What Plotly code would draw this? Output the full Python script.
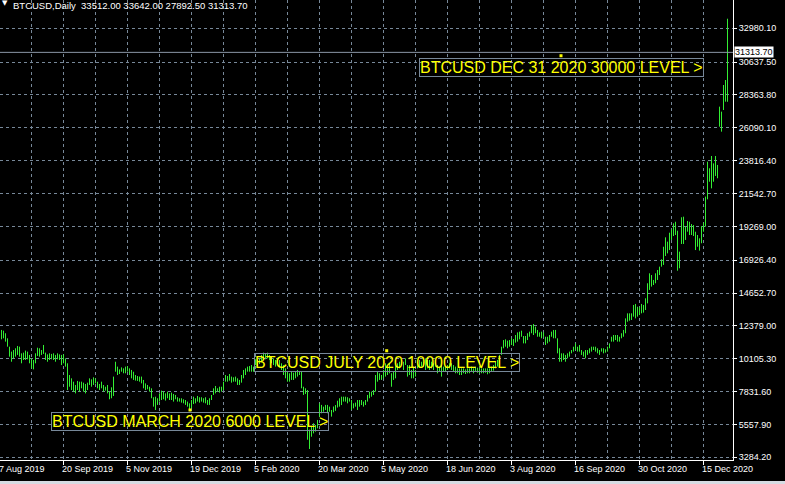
import plotly.graph_objects as go

symbol = "BTCUSD"
period = "Daily"

# Daily bars (weekdays), high / low
bar_high = [
    12100, 12050, 11870, 11520, 10940, 10600, 10710, 10830, 10990, 10940, 10480, 10530, 10670, 10600, 10370, 10130,
    10020, 10480, 10870, 10830, 10710, 11060, 10530, 10410, 10480, 10440, 10480, 10370, 10480, 10410, 10370, 10410, 10130,
    9790, 8980, 8750, 8520, 8290, 8570, 8520, 8520, 8450, 8360, 8450, 8750, 8680, 8820, 8750, 8520, 8360, 8520, 8290,
    8170, 8290, 7830, 8130, 8870,
    9900, 9560, 9370, 9510, 9440, 9560, 9600, 9440, 9330, 9210, 8980, 8910, 8870, 8870, 8640, 8400, 8290, 8170, 8060,
    7440, 7480, 7370, 7710, 7900, 7830, 7710, 7830, 7710, 7760, 7670, 7600, 7440, 7370, 7370, 7300, 7250, 7140, 7020,
    7250, 7480, 7370, 7530, 7440, 7440, 7370, 7440, 7250, 7370, 7600, 8060, 8220, 8060, 8170, 8170, 8520,
    8980, 8910, 9050, 8870, 8820, 8870, 8750, 8640, 8980, 9330, 9440, 9560, 9600, 9670, 9560, 10070, 10020, 10130,
    10370, 10530, 10480, 10530, 10370, 10250, 10130, 10020, 10130, 10020, 9790, 9670, 9440, 9210, 9100, 9210, 9140,
    9210, 9330, 9260, 9210, 8170, 8060,
    7940, 5200, 5400, 5640, 5520, 5870, 7020, 6910, 6790, 6910, 6910, 6790, 6560, 6800, 6900, 7200,
    7370, 7480, 7480, 7480, 7440, 7370, 7250, 7020, 7070, 7250, 7250, 7250, 7140, 7250, 7600, 7830, 7830, 7940,
    8980, 9210, 9100, 8980, 9330, 9790, 9560, 9790, 9100, 9210, 9670, 9790, 9900, 10020, 9900, 10130, 9670, 9670,
    9330, 9560, 9330, 9900, 10020, 9900, 9900, 10130, 10020, 10020, 9900, 9790, 9900, 9670, 9560, 9670, 9560, 9560,
    9670, 9790, 9790, 9670, 9560, 9440, 9440, 9440, 9440, 9370, 9440, 9440, 9560, 9440, 9560, 9490, 9440, 9440, 9440,
    9440, 9440, 9440, 9560, 9670, 9900, 10020, 10370,
    10940, 11400, 11450, 11360, 11400, 11520, 11470, 11750, 11930, 11980, 12050, 11680, 11680, 11870, 11980, 12440,
    12510, 12330, 12100, 11930, 11980, 11930, 11630, 11630, 11750, 11980, 12100, 12100, 11520, 10830, 10480, 10480,
    10370, 10480, 10600, 10710, 10940, 11170, 10940, 11060, 10710, 10600, 10710, 10710, 10830, 10940, 10940, 10940,
    10830, 10710, 10830, 10830, 10760, 10940, 11170, 11630, 11750, 11750, 11750, 11630, 11870, 12100,
    12900, 13250, 13250, 13250, 13830, 13900, 13710, 13670, 13900, 13830, 14290, 15330, 16020, 15900, 15560, 16020,
    16250, 16480, 16990, 17860, 18510, 18210, 18830, 19060, 19480, 19590, 18970, 17520, 19900, 19940, 19250, 19640,
    19590, 19430, 19360, 18900, 18670, 18440, 19290, 19530, 21330, 23750, 23290, 24140, 23630, 24140, 23520,
    27555, 27210, 29055, 29400, 33642.00,
]
bar_low = [
    11450, 11520, 11290, 10940, 10250, 9900, 10130, 10250, 10370, 10250, 9790, 10020, 10020, 10070, 9790, 9440,
    9370, 9790, 10300, 10250, 10370, 10440, 10020, 9900, 10020, 10070, 10020, 9900, 10070, 10020, 9670, 9790, 9560,
    7940, 8170, 7940, 7830, 7710, 7940, 7830, 8060, 7830, 7710, 7940, 8290, 8170, 8290, 8400, 8060, 7940, 8060, 7830,
    7900, 7710, 7300, 7370, 7530,
    9210, 8980, 9050, 9210, 9100, 9100, 9210, 8980, 8750, 8640, 8590, 8570, 8520, 8400, 8060, 7940, 7990, 7830, 7370,
    6790, 6560, 6910, 7140, 7250, 7300, 7210, 7370, 7250, 7250, 7140, 7300, 7140, 7140, 7070, 7020, 6910, 6790, 6560,
    6670, 6970, 7020, 7140, 7070, 7140, 7070, 7020, 6910, 6910, 7250, 7600, 7710, 7830, 7760, 7830, 7940,
    8520, 8520, 8590, 8450, 8520, 8520, 8290, 8290, 8450, 8750, 8980, 9210, 9210, 9210, 9210, 9670, 9600, 9740,
    9900, 10020, 10070, 10130, 10020, 9790, 9670, 9560, 9670, 9510, 9330, 8980, 8750, 8520, 8520, 8640, 8640,
    8750, 8870, 8980, 8060, 7600, 7670,
    4500, 3860, 4710, 4940, 5060, 5290, 6100, 6330, 6440, 6560, 6330, 6440, 6100, 6400, 6500, 6730,
    6790, 6900, 7140, 7140, 7020, 7140, 6560, 6670, 6790, 6560, 6790, 6900, 6790, 6900, 7140, 7370, 7480, 7600,
    7830, 8520, 8640, 8640, 8750, 8870, 8980, 9100, 8170, 8640, 8750, 9330, 9440, 9670, 9330, 9670, 8870, 8980,
    8750, 8750, 8870, 9440, 9560, 9560, 9560, 9330, 9440, 9330, 9440, 9330, 9560, 9100, 9210, 8870, 9210, 9210,
    9330, 9440, 9330, 9210, 9100, 9100, 8980, 8980, 9100, 9050, 9100, 9100, 9210, 9100, 9210, 9140, 9100, 9100, 9100,
    9140, 9030, 9100, 9210, 9280, 9440, 9560, 9790,
    10370, 10830, 10940, 10830, 10940, 11060, 10990, 11220, 11290, 11450, 11630, 11170, 11170, 11400, 11630, 11870,
    11750, 11870, 11630, 11630, 11520, 11630, 11060, 11170, 11290, 11630, 11520, 11520, 10480, 9900, 9900, 10020,
    9900, 10130, 10250, 10480, 10600, 10710, 10600, 10600, 10370, 10250, 10130, 10370, 10480, 10600, 10710, 10600,
    10480, 10370, 10600, 10480, 10530, 10600, 10830, 11290, 11290, 11400, 11290, 11290, 11520, 11630,
    11870, 12670, 12740, 12790, 13020, 12900, 13020, 13130, 13250, 13300, 13480, 13940, 14870, 15100, 15210, 15330,
    15560, 15900, 16480, 16600, 17220, 17400, 17630, 18330, 18600, 18670, 16200, 16370, 18050, 18050, 18330, 18900,
    18670, 18670, 18600, 17630, 17860, 17590, 18100, 18900, 19250, 21140, 22360, 21900, 22360, 22760, 22600,
    26170, 25825, 27325, 27900, 27892.50,
]
assert len(bar_high) == len(bar_low) == 364, (len(bar_high), len(bar_low))

last_open = 33512.00
last_close = 31313.70

date_labels = ["7 Aug 2019", "20 Sep 2019", "5 Nov 2019", "19 Dec 2019", "5 Feb 2020", "20 Mar 2020",
               "5 May 2020", "18 Jun 2020", "3 Aug 2020", "16 Sep 2020", "30 Oct 2020", "15 Dec 2020"]
date_label_bar = [-1, 31, 63, 95, 127, 159, 191, 223, 255, 287, 319, 351]

price_ticks = [3284.20, 5557.90, 7831.60, 10105.30, 12379.00, 14652.70, 16926.40,
               19269.00, 21542.70, 23816.40, 26090.10, 28363.80, 30637.50, 32980.10]

level_labels = ["BTCUSD MARCH 2020 6000 LEVEL >", "BTCUSD JULY 2020 10000 LEVEL >",
                "BTCUSD DEC 31 2020 30000 LEVEL >"]
level_bar = [94.25, 192.6, 279.75]
level_price = [6560, 10660, 31080]

# ---------------------------------------------------------------
BAR_COLOR = "#33ee33"
GRID = "#778899"
FONT = "Liberation Sans, Arial, sans-serif"
x_range = [-0.75, 365.75]
y_range = [3097.3, 34938.5]

seg_x, seg_y = [], []
for i, (h, l) in enumerate(zip(bar_high, bar_low)):
    seg_x += [i, i, None]
    seg_y += [l, h, None]

fig = go.Figure()
fig.add_trace(go.Scatter(x=seg_x, y=seg_y, mode="lines",
                         line=dict(color=BAR_COLOR, width=1), hoverinfo="skip", showlegend=False))
fig.add_trace(go.Scatter(x=level_bar, y=level_price, mode="markers",
                         marker=dict(symbol="square", size=3, color="#ffff00", line=dict(width=0)),
                         hoverinfo="skip", showlegend=False))

minor_vals = [b + 16 for b in date_label_bar]

fig.update_layout(
    width=785, height=484,
    margin=dict(l=0, r=52, t=0, b=24, pad=0),
    paper_bgcolor="black", plot_bgcolor="black",
    hovermode=False, showlegend=False,
    font=dict(family=FONT, color="white", size=9),
    xaxis=dict(range=x_range, tickmode="array", tickvals=date_label_bar, showticklabels=False,
               ticks="outside", ticklen=4, tickcolor="white", tickwidth=1,
               showline=True, linecolor="white", linewidth=1,
               showgrid=True, gridcolor=GRID, gridwidth=1, griddash="3px,3px", zeroline=False,
               minor=dict(tickmode="array", tickvals=minor_vals, showgrid=True, gridcolor=GRID,
                          gridwidth=1, griddash="3px,3px", ticks="")),
    yaxis=dict(range=y_range, side="right", tickmode="array", tickvals=price_ticks,
               ticktext=[f"{v:.2f}" for v in price_ticks],
               ticks="outside", ticklen=3, tickcolor="white", tickwidth=1,
               tickfont=dict(family=FONT, size=9, color="white"),
               showline=True, linecolor="white", linewidth=1,
               showgrid=True, gridcolor=GRID, gridwidth=1, griddash="3px,3px", zeroline=False),
)

ann = []
for k, (lbl, b) in enumerate(zip(date_labels, date_label_bar)):
    ann.append(dict(xref="paper", yref="paper",
                    x=max(0.0, (b - x_range[0]) / (x_range[1] - x_range[0])), y=0,
                    xanchor="left", yanchor="top", xshift=(-3 if k == 0 else -4), yshift=-2,
                    text=lbl, showarrow=False, font=dict(family=FONT, size=9, color="white")))

for txt, b, p in zip(level_labels, level_bar, level_price):
    ann.append(dict(xref="x", yref="y", x=b, y=p, xanchor="center", yanchor="top", yshift=-2,
                    text=txt, showarrow=False, font=dict(family=FONT, size=16, color="#ffff00"),
                    bordercolor=GRID, borderwidth=1, borderpad=0))

header = f"{symbol},{period}  {last_open:.2f} {bar_high[-1]:.2f} {bar_low[-1]:.2f} {last_close:.2f}"
ann.append(dict(xref="paper", yref="paper", x=0, y=1, xanchor="left", yanchor="top",
                xshift=11, yshift=2, text=header, showarrow=False,
                font=dict(family=FONT, size=9.5, color="white")))
ann.append(dict(xref="paper", yref="paper", x=0, y=1, xanchor="left", yanchor="top",
                xshift=0, yshift=3, text="▼", showarrow=False,
                font=dict(family="DejaVu Sans", size=7, color="white")))
ann.append(dict(xref="paper", yref="y", x=1, y=last_close, xanchor="left", yanchor="middle",
                xshift=1, text=f"{last_close:.2f}", showarrow=False, bgcolor="white",
                borderpad=0, font=dict(family=FONT, size=9, color="black")))
fig.update_layout(annotations=ann)

fig.add_shape(type="line", xref="paper", yref="y", x0=0, x1=1, y0=last_close, y1=last_close,
              line=dict(color="#8a96a6", width=1), layer="above")
fig.add_shape(type="rect", xref="paper", yref="paper", x0=0, x1=785 / 733,
              y0=-24 / 460, y1=-21 / 460, fillcolor="#d6dbe2", line=dict(width=0), layer="above")

fig.write_html("out.html", config={"displayModeBar": False, "staticPlot": True},
               post_script="document.body.style.margin='0';document.body.style.overflow='hidden';")
